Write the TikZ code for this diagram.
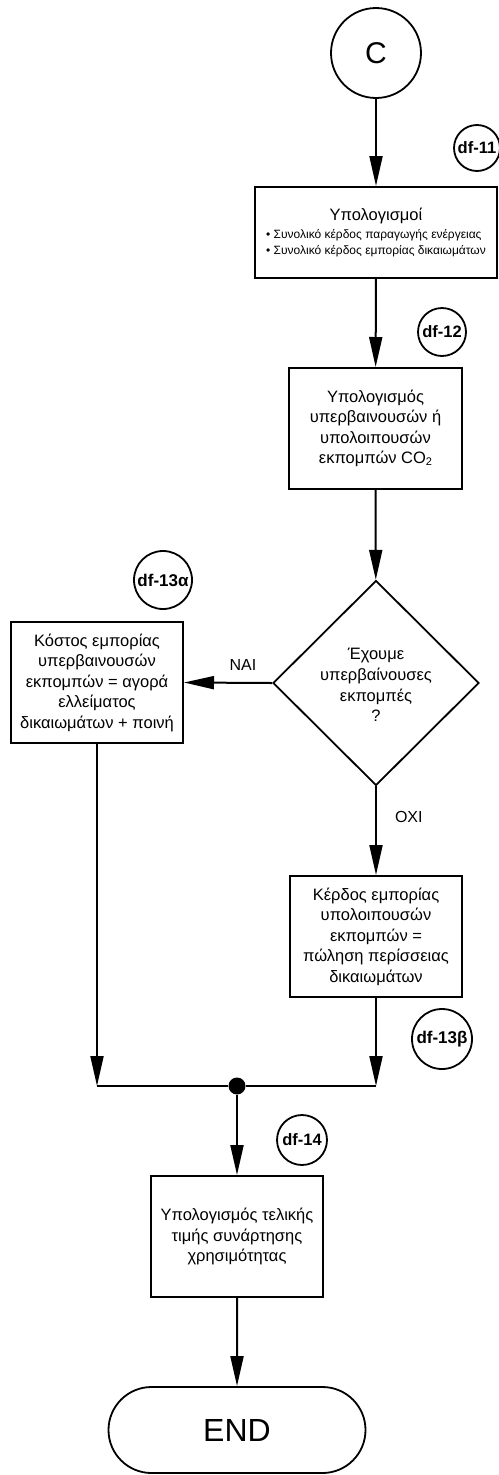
\documentclass[tikz,border=0pt]{standalone}
\usepackage{fontspec}
\setmainfont{Liberation Sans}
\usetikzlibrary{arrows.meta,shapes.geometric,shapes.misc}
\tikzset{
  x=1pt, y=1pt,
  every node/.style={font=\fontsize{16.5}{20.5}\selectfont},
  procbox/.style={draw, line width=2pt, rectangle, align=center, inner sep=0pt},
  refcirc/.style={draw, line width=1.8pt, circle, inner sep=0pt, font=\fontsize{16.5}{16.5}\selectfont\bfseries},
  flow/.style={line width=2pt, -{Triangle[length=30pt, width=13pt]}},
  plain/.style={line width=2pt},
  lbl/.style={inner sep=0pt, font=\fontsize{16}{16}\selectfont},
}
\newcommand{\cosub}{{\fontsize{11}{11}\selectfont\raisebox{-1.5pt}{2}}}
\begin{document}
\begin{tikzpicture}
\useasboundingbox (0,0) rectangle (498,-1475);

\node[draw, line width=1.8pt, circle, minimum size=90pt, inner sep=0pt, font=\fontsize{30}{30}\selectfont] (C) at (376,-53) {C};
\node[refcirc, minimum size=46pt] (df11) at (477,-148) {df-11};

\node[procbox, minimum width=242pt, minimum height=91pt] (b1) at (376,-232.5)
  {\raisebox{0pt}[14pt][0pt]{Υπολογισμοί}\\[6pt]
   {\fontsize{12}{15.5}\selectfont\begin{tabular}{@{}l@{}}
   • Συνολικό κέρδος παραγωγής ενέργειας\\
   • Συνολικό κέρδος εμπορίας δικαιωμάτων
   \end{tabular}}};

\node[refcirc, minimum size=48pt] (df12) at (442,-332) {df-12};

\node[procbox, minimum width=173pt, minimum height=121pt] (b2) at (375.5,-428.5)
  {Υπολογισμός\\υπερβαινουσών ή\\υπολοιπουσών\\εκπομπών CO\cosub};

\node[draw, line width=1.8pt, diamond, minimum width=206pt, minimum height=205pt, inner sep=0pt] (dia) at (376,-683) {};
\node[align=center, font=\fontsize{16.5}{20.8}\selectfont] (diatext) at (376,-685)
  {Έχουμε\\υπερβαίνουσες\\εκπομπές\\?};

\node[procbox, minimum width=172pt, minimum height=121pt] (b3) at (97,-682.5)
  {Κόστος εμπορίας\\υπερβαινουσών\\εκπομπών = αγορά\\ελλείματος\\δικαιωμάτων + ποινή};

\node[refcirc, minimum size=58pt, font=\fontsize{17}{17}\selectfont\bfseries] (df13a) at (163,-580) {df-13α};

\node[procbox, minimum width=172pt, minimum height=121pt] (b4) at (376,-936.5)
  {Κέρδος εμπορίας\\υπολοιπουσών\\εκπομπών =\\πώληση περίσσειας\\δικαιωμάτων};

\node[refcirc, minimum size=60pt, font=\fontsize{17}{17}\selectfont\bfseries] (df13b) at (442,-1039) {df-13β};

\coordinate (jl) at (97,-1086);
\coordinate (jr) at (376,-1086);
\node[circle, fill, inner sep=0pt, minimum size=17pt] (dot) at (237,-1086) {};

\node[refcirc, minimum size=50pt] (df14) at (302,-1140) {df-14};

\node[procbox, minimum width=172pt, minimum height=121pt] (b5) at (237,-1236.5)
  {Υπολογισμός τελικής\\τιμής συνάρτησης\\χρησιμότητας};

\node[draw, line width=1.8pt, rounded rectangle, minimum width=257pt, minimum height=86pt, inner sep=0pt, font=\fontsize{32}{32}\selectfont] (end) at (237,-1430) {END};

\draw[flow] (C) -- (b1);
\draw[flow] (b1) -- (b2);
\draw[flow] (b2) -- (dia);
\draw[flow] (dia.west) -- node[lbl, pos=0.33, above=11pt] (nai) {ΝΑΙ} (b3.east);
\draw[flow] (dia.south) -- node[lbl, pos=0.35, right=18pt] (oxi) {ΟΧΙ} (b4.north);
\draw[flow] (b3.south) -- (jl);
\draw[flow] (b4.south) -- (jr);
\draw[plain] (jl) -- (dot) -- (jr);
\draw[flow] (dot) -- (b5);
\draw[flow] (b5) -- (end);
\end{tikzpicture}
\end{document}
